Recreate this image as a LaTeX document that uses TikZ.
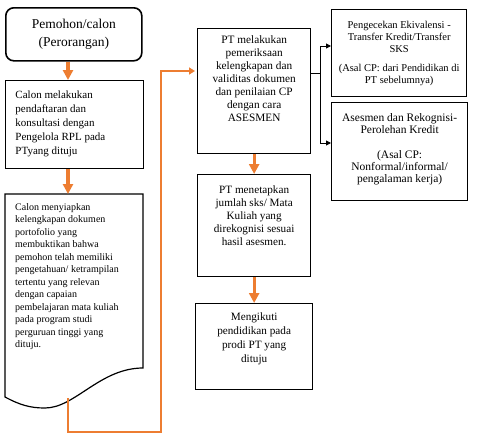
\documentclass[tikz,border=0pt]{standalone}
\usepackage{fontspec}
\setmainfont{Liberation Serif}
\usetikzlibrary{arrows.meta}
\definecolor{oranye}{HTML}{ED7D31}

\begin{document}
\begin{tikzpicture}[x=1pt, y=-1pt]
\tikzset{box/.style={draw, line width=1.3pt, inner sep=0pt, anchor=north west}}
\tikzset{alur/.style={oranye, line width=3.2pt, -{Triangle[length=10pt,width=10pt]}}}
\tikzset{balik/.style={oranye, line width=2pt, shorten >=2pt, -{Triangle[length=6pt,width=7pt]}}}
\tikzset{cabang/.style={line width=1pt, -{Triangle[length=5pt,width=5pt]}}}
\useasboundingbox (0,0) rectangle (487,447);
% titik bantu
\coordinate (docfoot) at (68,398);
\coordinate (turn) at (161,432);
\coordinate (ret) at (161,71);
\coordinate (split) at (320,73);
\coordinate (atas) at (320,46);
\coordinate (bawah) at (320,143);
% kolom kiri
\node[box, line width=1.6pt, rounded corners=8pt, minimum width=136pt, minimum height=53pt, align=center,
  font=\fontsize{13.5}{17.5}\selectfont] (pemohon) at (5,7) {Pemohon/calon\\(Perorangan)};
\node[box, line width=1pt, inner xsep=10pt, inner ysep=10pt] (daftar) at (5,80)
  {\parbox[t][68pt][t]{118pt}{\raggedright\fontsize{11}{14}\selectfont
  Calon melakukan\\pendaftaran dan\\konsultasi dengan\\Pengelola RPL pada\\PTyang dituju}};
\node[anchor=north west, inner xsep=10pt, inner ysep=9pt] (portofolio) at (5,194)
  {\parbox[t][185pt][t]{118pt}{\raggedright\fontsize{10}{12.5}\selectfont
  Calon menyiapkan\\kelengkapan dokumen\\portofolio yang\\membuktikan bahwa\\pemohon telah memiliki\\
  pengetahuan/ ketrampilan\\tertentu yang relevan\\dengan capaian\\pembelajaran mata kuliah\\
  pada program studi\\perguruan tinggi yang\\dituju.}};
\draw[line width=1.2pt] (5,194) -- (143,194) -- (143,368)
  .. controls (100,368) and (75,408) .. (45,408)
  .. controls (30,408) and (20,405) .. (5,397) -- cycle;
% kolom tengah
\node[box, inner xsep=4pt, inner ysep=7pt] (periksa) at (197,28)
  {\parbox[t][111pt][t]{105pt}{\centering\fontsize{11.3}{13}\selectfont
  PT melakukan\\pemeriksaan\\kelengkapan dan\\validitas dokumen\\dan penilaian CP\\dengan cara\\ASESMEN}};
\node[box, inner xsep=4pt, inner ysep=11pt] (tetap) at (197,174)
  {\parbox[t][80pt][t]{105pt}{\centering\fontsize{11.2}{13}\selectfont
  PT menetapkan\\jumlah sks/ Mata\\Kuliah yang\\direkognisi sesuai\\hasil asesmen.}};
\node[box, inner xsep=4pt, inner ysep=9pt] (ikuti) at (195,303)
  {\parbox[t][68pt][t]{109pt}{\centering\fontsize{11.2}{14}\selectfont
  Mengikuti\\pendidikan pada\\prodi PT yang\\dituju}};
% kolom kanan
\node[box, minimum width=135pt, minimum height=87pt, align=center,
  font=\fontsize{10.5}{12}\selectfont] (transfer) at (331,9)
  {Pengecekan Ekivalensi -\\Transfer Kredit/Transfer\\SKS\\[7pt](Asal CP: dari Pendidikan di\\PT sebelumnya)};
\node[box, inner xsep=3pt, inner ysep=11pt] (asesmen) at (331,102)
  {\parbox[t][76pt][t]{130pt}{\centering\fontsize{11.5}{12}\selectfont
  Asesmen dan Rekognisi-\\Perolehan Kredit\\[13pt](Asal CP:\\Nonformal/informal/\\pengalaman kerja)}};
% panah
\draw[alur] (pemohon.south -| docfoot) -- (daftar.north -| docfoot);
\draw[alur] (daftar.south -| docfoot) -- (portofolio.north -| docfoot);
\draw[balik] (docfoot) |- (turn) -- (ret) -- (ret -| periksa.west);
\draw[alur] (periksa.south) -- (tetap.north);
\draw[alur] (tetap.south) -- (ikuti.north);
\draw[line width=1pt] (periksa.east |- split) -- (split);
\draw[line width=1pt] (atas) -- (bawah);
\draw[cabang] (atas) -- (atas -| transfer.west);
\draw[cabang] (bawah) -- (bawah -| asesmen.west);
\end{tikzpicture}
\end{document}
